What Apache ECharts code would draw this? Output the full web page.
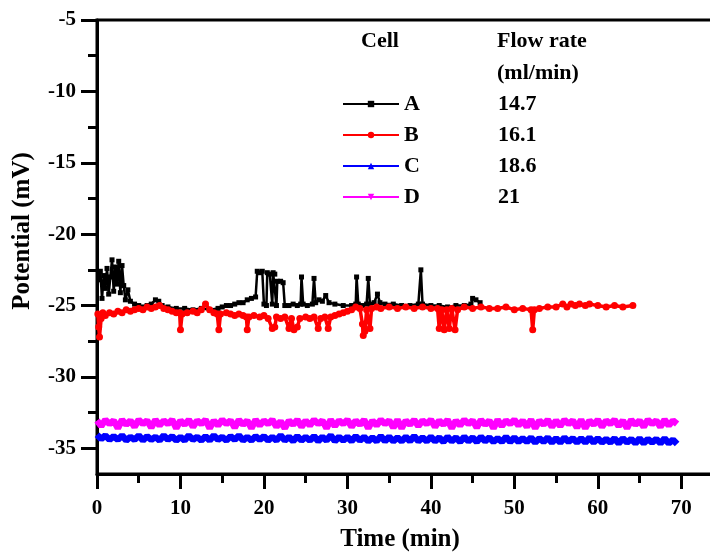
<!DOCTYPE html>
<html>
<head>
<meta charset="utf-8">
<script src="https://cdn.jsdelivr.net/npm/echarts@6/dist/echarts.min.js"></script>
<style>
  html, body { margin: 0; padding: 0; background: #fff; }
  #main { width: 710px; height: 553px; }
</style>
</head>
<body>
<div id="main"></div>
<script>
// cells and flow rates (legend table)
var cells = ['A', 'B', 'C', 'D'];
var flowRates = ['14.7', '16.1', '18.6', '21'];

// tick values
var xMajor = [0, 10, 20, 30, 40, 50, 60, 70];
var xMinor = [5, 15, 25, 35, 45, 55, 65];
var yMajor = [-35, -30, -25, -20, -15, -10, -5];
var yMinor = [-32.5, -27.5, -22.5, -17.5, -12.5, -7.5];

// cell A: [time (min), potential (mV)]
var cellA = [
    [0.2, -23.2], [0.4, -22.6], [0.6, -24.5], [0.8, -22.9], [1.0, -23.8], [1.2, -22.4],
    [1.4, -24.2], [1.6, -23.0], [1.8, -21.8], [2.0, -24.0], [2.2, -22.3], [2.4, -23.5],
    [2.6, -21.9], [2.8, -24.1], [3.0, -22.2], [3.2, -23.6], [3.4, -24.6], [3.7, -23.9],
    [4.0, -24.7], [4.5, -24.9], [5.0, -25.0], [5.5, -25.1], [6.0, -25.0], [6.5, -24.9],
    [7.0, -24.6], [7.4, -24.7], [7.8, -25.0], [8.5, -25.1], [9.5, -25.2], [10.5, -25.2],
    [11.5, -25.3], [12.5, -25.2], [13.5, -25.3], [14.5, -25.2], [15.0, -25.1], [15.5, -25.0],
    [16.0, -25.0], [16.5, -24.9], [17.0, -24.8], [17.5, -24.8], [18.0, -24.6], [18.5, -24.5],
    [19.0, -24.4], [19.2, -22.6], [19.5, -22.7], [19.8, -22.6], [20.0, -24.9], [20.3, -25.0],
    [20.4, -22.7], [20.7, -22.8], [21.0, -24.9], [21.1, -22.7], [21.3, -22.8], [21.5, -25.0],
    [21.6, -23.3], [22.0, -23.3], [22.3, -23.4], [22.5, -25.0], [23.0, -25.0], [23.5, -24.9],
    [24.0, -25.0], [24.4, -24.9], [24.5, -23.0], [24.7, -24.9], [25.2, -25.0], [25.8, -24.9],
    [26.0, -23.1], [26.2, -24.8], [26.6, -24.6], [27.0, -24.7], [27.4, -24.3], [27.8, -24.8],
    [28.5, -24.9], [29.5, -25.0], [30.5, -25.0], [31.0, -24.9], [31.1, -23.0], [31.3, -24.9],
    [31.8, -25.0], [32.3, -24.9], [32.5, -23.1], [32.7, -24.9], [33.2, -24.8], [33.6, -24.2],
    [33.9, -24.8], [34.5, -24.9], [35.5, -24.9], [36.5, -25.0], [37.5, -25.0], [38.5, -24.9],
    [38.8, -22.5], [39.0, -24.9], [40.0, -25.0], [41.0, -25.0], [42.0, -25.1], [43.0, -25.0],
    [44.0, -25.0], [44.8, -24.9], [45.0, -24.5], [45.4, -24.6], [45.9, -24.8]
];

// cell B
var cellB = [
    [0.1, -25.6], [0.2, -26.5], [0.3, -27.2], [0.5, -25.9], [0.7, -25.5], [1.0, -25.7],
    [1.5, -25.5], [2.0, -25.6], [2.5, -25.4], [3.0, -25.5], [3.5, -25.3], [4.0, -25.4],
    [4.5, -25.3], [5.0, -25.2], [5.5, -25.3], [6.0, -25.1], [6.5, -25.2], [7.0, -25.1],
    [7.5, -25.0], [8.0, -25.2], [8.5, -25.3], [9.0, -25.4], [9.5, -25.5], [9.9, -25.5],
    [10.0, -26.7], [10.2, -25.6], [10.8, -25.5], [11.5, -25.4], [12.0, -25.5], [12.5, -25.3],
    [13.0, -24.9], [13.5, -25.3], [14.0, -25.5], [14.4, -25.6], [14.6, -26.7], [14.8, -25.6],
    [15.5, -25.5], [16.0, -25.6], [16.5, -25.7], [17.0, -25.6], [17.5, -25.7], [17.9, -25.8],
    [18.0, -26.7], [18.2, -25.8], [18.8, -25.7], [19.5, -25.8], [20.0, -25.7], [20.5, -25.9],
    [21.0, -26.6], [21.3, -26.5], [21.5, -25.8], [22.0, -25.9], [22.5, -25.8], [23.0, -26.6],
    [23.3, -25.9], [23.6, -26.7], [24.0, -26.5], [24.3, -25.9], [25.0, -25.8], [25.5, -25.9],
    [26.0, -25.8], [26.5, -26.6], [26.8, -25.9], [27.3, -25.8], [27.7, -26.6], [28.0, -25.8],
    [28.5, -25.7], [29.0, -25.6], [29.5, -25.5], [30.0, -25.4], [30.5, -25.3], [31.0, -25.1],
    [31.5, -25.2], [31.8, -26.3], [31.9, -27.1], [32.1, -26.8], [32.3, -25.3], [32.7, -26.6],
    [32.9, -25.2], [33.5, -25.1], [34.0, -25.2], [35.0, -25.1], [36.0, -25.2], [37.0, -25.1],
    [38.0, -25.2], [39.0, -25.1], [40.0, -25.2], [40.8, -25.2], [41.0, -26.6], [41.3, -25.3],
    [41.6, -26.7], [41.9, -25.3], [42.2, -26.6], [42.5, -25.2], [42.9, -26.7], [43.2, -25.3],
    [44.0, -25.1], [45.0, -25.2], [46.0, -25.1], [47.0, -25.2], [48.0, -25.2], [49.0, -25.1],
    [50.0, -25.3], [51.0, -25.2], [52.0, -25.3], [52.2, -26.7], [52.4, -25.3], [53.0, -25.2],
    [54.0, -25.1], [55.0, -25.1], [55.8, -24.9], [56.3, -25.1], [56.8, -24.9], [57.3, -25.0],
    [57.8, -24.9], [58.5, -25.0], [59.0, -24.9], [60.0, -25.0], [61.0, -25.1], [62.0, -25.0],
    [63.0, -25.1], [64.2, -25.0]
];

// cells C and D are sampled every 0.5 min from t = 0
var sampleStep = 0.5;
var cellC = [
    -34.05, -34.35, -34.1, -34.4, -34.15, -34.4, -34.1, -34.45, -34.2, -34.4,
    -34.1, -34.45, -34.15, -34.4, -34.2, -34.45, -34.1, -34.4, -34.15, -34.45,
    -34.2, -34.45, -34.1, -34.4, -34.2, -34.45, -34.15, -34.45, -34.1, -34.4,
    -34.2, -34.45, -34.15, -34.4, -34.1, -34.45, -34.2, -34.45, -34.15, -34.4,
    -34.15, -34.45, -34.2, -34.45, -34.1, -34.45, -34.2, -34.5, -34.15, -34.45,
    -34.2, -34.45, -34.15, -34.5, -34.2, -34.45, -34.1, -34.5, -34.2, -34.45,
    -34.2, -34.5, -34.15, -34.45, -34.2, -34.5, -34.25, -34.5, -34.15, -34.5,
    -34.2, -34.5, -34.25, -34.5, -34.2, -34.5, -34.15, -34.5, -34.25, -34.5,
    -34.2, -34.5, -34.25, -34.55, -34.2, -34.5, -34.25, -34.55, -34.2, -34.5,
    -34.25, -34.55, -34.2, -34.5, -34.25, -34.55, -34.3, -34.55, -34.2, -34.55,
    -34.25, -34.55, -34.3, -34.55, -34.25, -34.6, -34.3, -34.55, -34.25, -34.6,
    -34.3, -34.6, -34.25, -34.55, -34.3, -34.6, -34.3, -34.6, -34.25, -34.6,
    -34.3, -34.6, -34.35, -34.6, -34.3, -34.65, -34.3, -34.6, -34.35, -34.65,
    -34.3, -34.65, -34.35, -34.6, -34.35, -34.65, -34.3, -34.65, -34.4, -34.7
];
var cellD = [
    -33.05, -33.45, -33.0, -33.3, -33.05, -33.6, -33.0, -33.35, -33.05, -33.5,
    -33.0, -33.3, -33.05, -33.55, -33.0, -33.4, -33.05, -33.3, -33.0, -33.6,
    -33.05, -33.35, -33.0, -33.5, -33.05, -33.3, -33.0, -33.6, -33.05, -33.4,
    -33.0, -33.3, -33.05, -33.55, -33.0, -33.35, -33.05, -33.6, -33.0, -33.4,
    -33.05, -33.3, -33.0, -33.5, -33.1, -33.6, -33.05, -33.35, -33.0, -33.5,
    -33.05, -33.4, -33.0, -33.3, -33.05, -33.6, -33.0, -33.45, -33.05, -33.3,
    -33.0, -33.5, -33.05, -33.35, -33.0, -33.6, -33.05, -33.4, -33.0, -33.3,
    -33.05, -33.55, -33.0, -33.6, -33.05, -33.35, -33.0, -33.45, -33.05, -33.3,
    -33.0, -33.5, -33.05, -33.35, -33.0, -33.6, -33.05, -33.4, -33.0, -33.3,
    -33.05, -33.55, -33.0, -33.35, -33.05, -33.6, -33.0, -33.45, -33.05, -33.3,
    -33.0, -33.4, -33.05, -33.5, -33.0, -33.6, -33.05, -33.35, -33.0, -33.5,
    -33.05, -33.45, -33.0, -33.3, -33.05, -33.55, -33.0, -33.6, -33.05, -33.35,
    -33.0, -33.5, -33.05, -33.3, -33.0, -33.45, -33.05, -33.6, -33.0, -33.35,
    -33.05, -33.5, -33.0, -33.3, -33.05, -33.5, -33.0, -33.4, -33.05, -33.3
];

function withTime(values) {
    return values.map(function (v, i) { return [i * sampleStep, v]; });
}

var FONT = '"Liberation Serif", "Times New Roman", serif';

var myChart = echarts.init(document.getElementById('main'));

var gridBox = { left: 97, top: 20, right: -3, bottom: 79, outerBoundsMode: 'none', containLabel: false };

var option = {
    backgroundColor: '#fff',
    animation: false,
    grid: [
        Object.assign({ show: true, borderColor: '#000', borderWidth: 3 }, gridBox),
        Object.assign({ show: false }, gridBox)
    ],
    legend: {
        data: cells,
        orient: 'vertical',
        left: 337,
        top: 88,
        itemWidth: 56,
        itemHeight: 8,
        itemGap: 9,
        symbolRotate: 'inherit',
        formatter: function (name) {
            return '{n|' + name + '}{v|' + flowRates[cells.indexOf(name)] + '}';
        },
        textStyle: {
            fontFamily: FONT,
            fontWeight: 'bold',
            fontSize: 22,
            color: '#000',
            rich: {
                n: { width: 94, fontFamily: FONT, fontWeight: 'bold', fontSize: 22, color: '#000' },
                v: { fontFamily: FONT, fontWeight: 'bold', fontSize: 22, color: '#000' }
            }
        }
    },
    graphic: [
        { type: 'text', left: 361, top: 30, style: { text: 'Cell', font: 'bold 22px ' + FONT, fill: '#000' } },
        { type: 'text', left: 497, top: 30, style: { text: 'Flow rate', font: 'bold 22px ' + FONT, fill: '#000' } },
        { type: 'text', left: 497, top: 62, style: { text: '(ml/min)', font: 'bold 22px ' + FONT, fill: '#000' } }
    ],
    xAxis: [
        {
            type: 'value', gridIndex: 0, min: 0, max: 73.8,
            name: 'Time (min)', nameLocation: 'middle', nameGap: 53,
            nameTextStyle: { fontFamily: FONT, fontWeight: 'bold', fontSize: 25, color: '#000', padding: [0, 10, 0, 0] },
            splitLine: { show: false },
            axisLine: { lineStyle: { color: '#000', width: 3 } },
            axisTick: { customValues: xMajor, length: 15, lineStyle: { color: '#000', width: 3 } },
            axisLabel: { customValues: xMajor, margin: 24, fontFamily: FONT, fontWeight: 'bold', fontSize: 21, color: '#000' }
        },
        {
            type: 'value', gridIndex: 1, min: 0, max: 73.8,
            splitLine: { show: false },
            axisLine: { show: false },
            axisTick: { customValues: xMinor, length: 9, lineStyle: { color: '#000', width: 3 } },
            axisLabel: { show: false }
        }
    ],
    yAxis: [
        {
            type: 'value', gridIndex: 0, min: -36.8, max: -5,
            name: 'Potential (mV)', nameLocation: 'middle', nameGap: 62,
            nameTextStyle: { fontFamily: FONT, fontWeight: 'bold', fontSize: 25, color: '#000', padding: [0, 0, 0, 32] },
            splitLine: { show: false },
            axisLine: { lineStyle: { color: '#000', width: 3 } },
            axisTick: { customValues: yMajor, length: 16, lineStyle: { color: '#000', width: 3 } },
            axisLabel: { customValues: yMajor, margin: 21, fontFamily: FONT, fontWeight: 'bold', fontSize: 21, color: '#000' }
        },
        {
            type: 'value', gridIndex: 1, min: -36.8, max: -5,
            splitLine: { show: false },
            axisLine: { show: false },
            axisTick: { customValues: yMinor, length: 9, lineStyle: { color: '#000', width: 3 } },
            axisLabel: { show: false }
        }
    ],
    series: [
        {
            name: 'A', type: 'line', data: cellA,
            symbol: 'rect', symbolSize: 5,
            itemStyle: { color: '#000' },
            lineStyle: { color: '#000', width: 2.5 },
            z: 3
        },
        {
            name: 'B', type: 'line', data: cellB,
            symbol: 'circle', symbolSize: 7,
            itemStyle: { color: '#ff0000' },
            lineStyle: { color: '#ff0000', width: 3.5 },
            z: 4
        },
        {
            name: 'C', type: 'line', data: withTime(cellC),
            symbol: 'triangle', symbolSize: 8, showSymbol: false,
            itemStyle: { color: '#0000ff' },
            lineStyle: { color: '#0000ff', width: 6.5 }
        },
        {
            name: 'D', type: 'line', data: withTime(cellD),
            symbol: 'triangle', symbolRotate: 180, symbolSize: 8, showSymbol: false,
            itemStyle: { color: '#ff00ff' },
            lineStyle: { color: '#ff00ff', width: 6.5 }
        }
    ]
};

myChart.setOption(option);
</script>
</body>
</html>
